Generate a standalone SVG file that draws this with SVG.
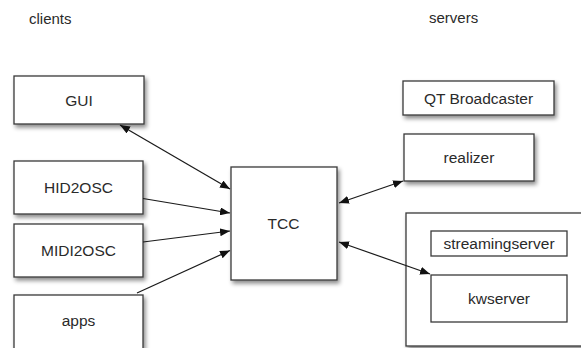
<svg xmlns="http://www.w3.org/2000/svg" width="581" height="348" viewBox="0 0 581 348">
<style>
.box{fill:#fff;stroke:#3a3a3a;stroke-width:1.3}
.sh{filter:url(#ds)}
.lbl{font-family:"Liberation Sans",Arial,sans-serif;font-size:15.5px;fill:#2a2a2a;text-anchor:middle}
.hdr{font-family:"Liberation Sans",Arial,sans-serif;font-size:15px;fill:#2a2a2a}
.edge{stroke:#1a1a1a;stroke-width:1.2;fill:none}
</style>
<defs>
<filter id="ds" x="-20%" y="-20%" width="140%" height="150%">
<feDropShadow dx="2" dy="3" stdDeviation="2" flood-color="#000" flood-opacity="0.45"/>
</filter>
<marker id="ah" viewBox="0 0 10 8" refX="10" refY="4" markerWidth="10" markerHeight="8" markerUnits="userSpaceOnUse" orient="auto-start-reverse">
<path d="M0,0 L10,4 L0,8 Z" fill="#111"/>
</marker>
</defs>
<rect width="581" height="348" fill="#fff"/>
<text class="hdr" x="29" y="24">clients</text>
<text class="hdr" x="429" y="23">servers</text>

<g id="gui"><rect class="box sh" x="14" y="76" width="130" height="48"/><text class="lbl" x="79" y="105.5">GUI</text></g>
<g id="hid2osc"><rect class="box sh" x="14" y="161" width="129" height="53"/><text class="lbl" x="78.5" y="192.5">HID2OSC</text></g>
<g id="midi2osc"><rect class="box sh" x="14" y="224" width="129" height="53"/><text class="lbl" x="78.5" y="256">MIDI2OSC</text></g>
<g id="apps"><rect class="box sh" x="14" y="295" width="129" height="60"/><text class="lbl" x="78.5" y="326">apps</text></g>
<g id="tcc"><rect class="box sh" x="231" y="167" width="106" height="113"/><text class="lbl" x="283.5" y="229">TCC</text></g>
<g id="qt"><rect class="box sh" x="403" y="81" width="151" height="34"/><text class="lbl" x="478.5" y="104">QT Broadcaster</text></g>
<g id="realizer"><rect class="box sh" x="404" y="134" width="130" height="47"/><text class="lbl" x="469" y="163">realizer</text></g>
<g id="servergroup"><rect class="box sh" x="406" y="213" width="190" height="133"/></g>
<g id="streamingserver"><rect class="box" x="431" y="231" width="136" height="25"/><text class="lbl" x="499" y="249">streamingserver</text></g>
<g id="kwserver"><rect class="box" x="431" y="275" width="136" height="47"/><text class="lbl" x="499" y="304">kwserver</text></g>

<g id="connectors">
<line class="edge" x1="120" y1="125" x2="230" y2="189" marker-start="url(#ah)" marker-end="url(#ah)"/>
<line class="edge" x1="143" y1="198.5" x2="230" y2="213" marker-end="url(#ah)"/>
<line class="edge" x1="143" y1="242" x2="230" y2="231" marker-end="url(#ah)"/>
<line class="edge" x1="137" y1="293" x2="230" y2="250.5" marker-end="url(#ah)"/>
<line class="edge" x1="339" y1="203" x2="403" y2="181" marker-start="url(#ah)" marker-end="url(#ah)"/>
<line class="edge" x1="339" y1="242" x2="430" y2="274" marker-start="url(#ah)" marker-end="url(#ah)"/>
</g>
</svg>
